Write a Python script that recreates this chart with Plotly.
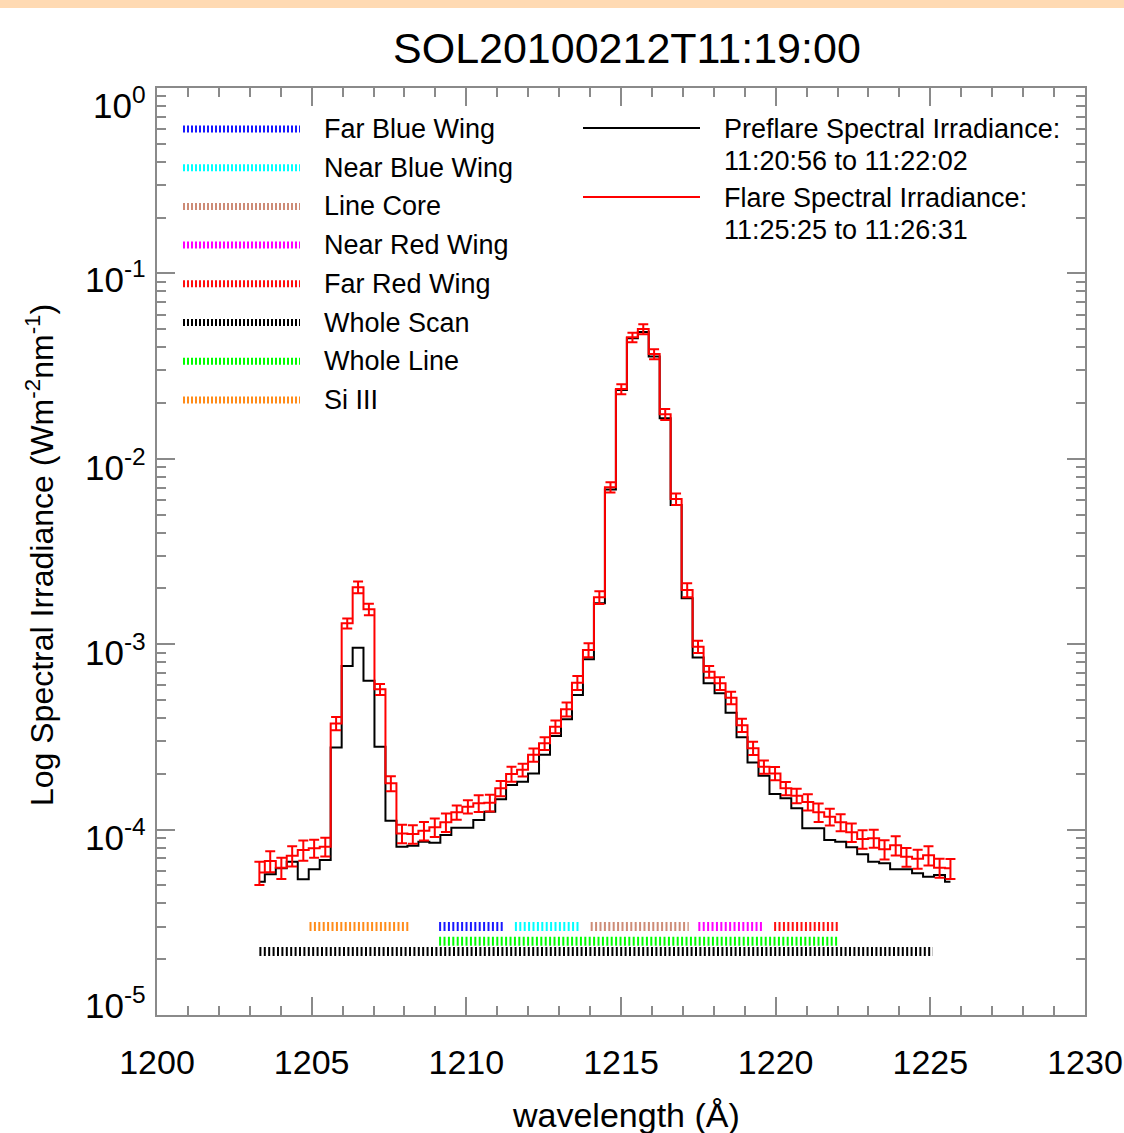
import plotly.graph_objects as go

# ---------------- data ----------------
wavelength = [
    1203.31, 1203.66, 1204.02, 1204.37, 1204.73, 1205.08, 1205.44, 1205.79,
    1206.15, 1206.50, 1206.85, 1207.21, 1207.56, 1207.92, 1208.27, 1208.63,
    1208.98, 1209.34, 1209.69, 1210.05, 1210.40, 1210.76, 1211.11, 1211.46,
    1211.82, 1212.17, 1212.53, 1212.88, 1213.24, 1213.59, 1213.95, 1214.30,
    1214.66, 1215.01, 1215.37, 1215.72, 1216.07, 1216.43, 1216.78, 1217.14,
    1217.49, 1217.85, 1218.20, 1218.56, 1218.91, 1219.27, 1219.62, 1219.98,
    1220.33, 1220.68, 1221.04, 1221.39, 1221.75, 1222.10, 1222.46, 1222.81,
    1223.17, 1223.52, 1223.88, 1224.23, 1224.59, 1224.94, 1225.30, 1225.65,
]

preflare = [
    5.24e-5, 5.74e-5, 6.18e-5, 6.71e-5, 5.39e-5, 6.11e-5, 6.86e-5, 2.77e-4,
    7.63e-4, 9.57e-4, 6.36e-4, 2.80e-4, 1.117e-4, 8.09e-5, 8.19e-5, 8.61e-5,
    8.50e-5, 9.35e-5, 1.024e-4, 1.024e-4, 1.127e-4, 1.25e-4, 1.457e-4, 1.74e-4,
    1.81e-4, 2.01e-4, 2.53e-4, 3.20e-4, 3.94e-4, 5.32e-4, 8.29e-4, 1.663e-3,
    6.84e-3, 2.35e-2, 4.47e-2, 4.83e-2, 3.56e-2, 1.653e-2, 5.64e-3, 1.77e-3,
    8.49e-4, 6.15e-4, 5.43e-4, 4.27e-4, 3.15e-4, 2.30e-4, 1.95e-4, 1.556e-4,
    1.475e-4, 1.303e-4, 1.016e-4, 1.016e-4, 8.79e-5, 8.61e-5, 8.03e-5, 7.36e-5,
    6.71e-5, 6.58e-5, 6.11e-5, 6.11e-5, 5.81e-5, 5.57e-5, 5.69e-5, 5.24e-5,
]

flare = [
    5.87e-5, 6.77e-5, 6.23e-5, 7.23e-5, 7.76e-5, 7.93e-5, 8.09e-5, 3.74e-4,
    1.297e-3, 2.03e-3, 1.542e-3, 5.71e-4, 1.777e-4, 9.53e-5, 9.47e-5, 9.87e-5,
    1.029e-4, 1.095e-4, 1.24e-4, 1.33e-4, 1.387e-4, 1.397e-4, 1.67e-4, 1.995e-4,
    2.10e-4, 2.53e-4, 2.92e-4, 3.59e-4, 4.46e-4, 6.20e-4, 9.31e-4, 1.79e-3,
    7.02e-3, 2.38e-2, 4.52e-2, 5.01e-2, 3.67e-2, 1.738e-2, 6.07e-3, 1.96e-3,
    9.70e-4, 7.11e-4, 6.15e-4, 5.14e-4, 3.66e-4, 2.75e-4, 2.18e-4, 2.01e-4,
    1.67e-4, 1.524e-4, 1.409e-4, 1.24e-4, 1.174e-4, 1.095e-4, 9.67e-5, 8.90e-5,
    8.98e-5, 7.83e-5, 8.23e-5, 7.14e-5, 6.97e-5, 7.27e-5, 6.23e-5, 6.18e-5,
]

# relative 1-sigma uncertainty of the flare spectrum
flare_rel_err = [
    0.143, 0.130, 0.130, 0.126, 0.124, 0.112, 0.116, 0.083,
    0.062, 0.072, 0.072, 0.068, 0.093, 0.114, 0.114, 0.114,
    0.114, 0.114, 0.089, 0.083, 0.104, 0.104, 0.095, 0.093,
    0.079, 0.083, 0.079, 0.079, 0.087, 0.087, 0.087, 0.079,
    0.064, 0.062, 0.060, 0.062, 0.062, 0.068, 0.072, 0.087,
    0.077, 0.072, 0.079, 0.077, 0.081, 0.083, 0.083, 0.083,
    0.083, 0.089, 0.100, 0.114, 0.104, 0.104, 0.114, 0.114,
    0.112, 0.118, 0.118, 0.116, 0.118, 0.118, 0.118, 0.124,
]
flare_err = [v * r for v, r in zip(flare, flare_rel_err)]

band_names = ["Far Blue Wing", "Near Blue Wing", "Line Core", "Near Red Wing",
              "Far Red Wing", "Whole Scan", "Whole Line", "Si III"]
band_colors = ["#1818ff", "#00ffff", "#cd8b76", "#ff00ff",
               "#ff1010", "#000000", "#00ff00", "#ff8c1a"]
band_start = [1209.12, 1211.57, 1214.02, 1217.50, 1219.95, 1203.31, 1209.12, 1204.93]
band_end = [1211.25, 1213.69, 1217.19, 1219.62, 1222.06, 1225.08, 1222.06, 1208.14]
band_level = [3.0e-5, 3.0e-5, 3.0e-5, 3.0e-5, 3.0e-5, 2.2e-5, 2.5e-5, 3.0e-5]

x_tick_vals = [1200, 1205, 1210, 1215, 1220, 1225, 1230]
y_tick_vals = [1e-5, 1e-4, 1e-3, 1e-2, 1e-1, 1e0]
y_tick_exp = [-5, -4, -3, -2, -1, 0]
y_tick_text = ["10<sup>-5</sup>", "10<sup>-4</sup>", "10<sup>-3</sup>",
               "10<sup>-2</sup>", "10<sup>-1</sup>", "10<sup>0</sup>"]

title_text = "SOL20100212T11:19:00"
pre_label = ["Preflare Spectral Irradiance:", "11:20:56 to 11:22:02"]
flare_label = ["Flare Spectral Irradiance:", "11:25:25 to 11:26:31"]

# ---------------- figure ----------------
W, H = 1124, 1133
L, R, T, B = 157, 1085, 88, 1015
FONT = "Liberation Sans, Arial, sans-serif"
# vertical nudges of the y tick labels (px, positive = up), as in the reference
y_label_shift = [12, -5, -6, -6, -4, -15]


def px_x(px):
    return (px - L) / (R - L)


def px_y(py):
    return (B - py) / (B - T)


fig = go.Figure()

# bands along the bottom
for name, col, x0, x1, lv in zip(band_names, band_colors, band_start, band_end, band_level):
    fig.add_trace(go.Scatter(
        x=[x0, x1], y=[lv, lv], mode="lines", showlegend=False, name=name,
        line=dict(color=col, width=9, dash="2px,2.4px"), hoverinfo="skip"))

fig.add_trace(go.Scatter(
    x=wavelength, y=preflare, mode="lines", line_shape="hvh",
    line=dict(color="black", width=2), showlegend=False, name="Preflare"))

fig.add_trace(go.Scatter(
    x=wavelength, y=flare, mode="lines", line_shape="hvh",
    line=dict(color="#ff0000", width=2), showlegend=False, name="Flare",
    error_y=dict(type="data", array=flare_err, color="#ff0000", thickness=2, width=5)))

shapes = []
annotations = []

# left legend
for i, (name, col) in enumerate(zip(band_names, band_colors)):
    yy = 129 + i * 38.7
    shapes.append(dict(type="line", xref="paper", yref="paper",
                       x0=px_x(183), x1=px_x(300), y0=px_y(yy), y1=px_y(yy),
                       line=dict(color=col, width=7, dash="2px,2px")))
    annotations.append(dict(text=name, xref="paper", yref="paper",
                            x=px_x(322), y=px_y(yy), xanchor="left", yanchor="middle",
                            showarrow=False, font=dict(size=27, color="black", family=FONT)))

# right legend
for yy, col in [(128, "black"), (197, "#ff0000")]:
    shapes.append(dict(type="line", xref="paper", yref="paper",
                       x0=px_x(583), x1=px_x(700), y0=px_y(yy), y1=px_y(yy),
                       line=dict(color=col, width=2)))
for txt, yy in zip(pre_label + flare_label, [129, 161, 198, 230]):
    annotations.append(dict(text=txt, xref="paper", yref="paper",
                            x=px_x(722), y=px_y(yy), xanchor="left", yanchor="middle",
                            showarrow=False, font=dict(size=27, color="black", family=FONT)))

# y tick labels (placed as in the reference)
for ex, txt, sh in zip(y_tick_exp, y_tick_text, y_label_shift):
    annotations.append(dict(text=txt, xref="paper", yref="y", x=px_x(148), y=ex,
                            xanchor="right", yanchor="middle", yshift=sh,
                            showarrow=False, font=dict(size=35, color="black", family=FONT)))

# top peach band
shapes.append(dict(type="rect", xref="paper", yref="paper",
                   x0=px_x(-5), x1=px_x(W + 5), y0=px_y(8), y1=px_y(-5),
                   fillcolor="#ffdab3", line=dict(width=0), layer="above"))

# title and axis titles
annotations.append(dict(text=title_text, xref="paper", yref="paper",
                        x=px_x(627), y=px_y(48), xanchor="center", yanchor="middle",
                        showarrow=False, font=dict(size=43, color="black", family=FONT)))
annotations.append(dict(text="wavelength (Å)", xref="paper", yref="paper",
                        x=px_x(626), y=px_y(1115), xanchor="center", yanchor="middle",
                        showarrow=False, font=dict(size=34, color="black", family=FONT)))
annotations.append(dict(text="Log Spectral Irradiance (Wm<sup>-2</sup>nm<sup>-1</sup>)",
                        xref="paper", yref="paper", textangle=-90,
                        x=px_x(40), y=px_y(555), xanchor="center", yanchor="middle",
                        showarrow=False, font=dict(size=32, color="black", family=FONT)))

axis_col = "#8a8a8a"
fig.update_layout(
    width=W, height=H,
    margin=dict(l=L, r=W - R, t=T, b=H - B, autoexpand=False),
    paper_bgcolor="white", plot_bgcolor="white",
    shapes=shapes, annotations=annotations,
    font=dict(family=FONT, color="black"),
    xaxis=dict(range=[1200, 1230], tickmode="array", tickvals=x_tick_vals,
               automargin=False,
               ticks="inside", ticklen=18, tickwidth=2, tickcolor=axis_col,
               showline=True, linecolor=axis_col, linewidth=2, mirror="ticks",
               showgrid=False, zeroline=False,
               tickfont=dict(size=34, color="black", family=FONT),
               ticklabelstandoff=16,
               minor=dict(ticks="inside", ticklen=9, tickwidth=1.5, tickcolor=axis_col,
                          dtick=1, showgrid=False)),
    yaxis=dict(type="log", range=[-5, 0], tickmode="array", tickvals=y_tick_vals,
               showticklabels=False, automargin=False,
               ticks="inside", ticklen=18, tickwidth=2, tickcolor=axis_col,
               showline=True, linecolor=axis_col, linewidth=2, mirror="ticks",
               showgrid=False, zeroline=False,
               minor=dict(ticks="inside", ticklen=9, tickwidth=1.5, tickcolor=axis_col,
                          dtick="D1", showgrid=False)),
)

fig.write_html("out.html", config={"displayModeBar": False},
               post_script="document.body.style.margin='0px';document.body.style.overflow='hidden';")
